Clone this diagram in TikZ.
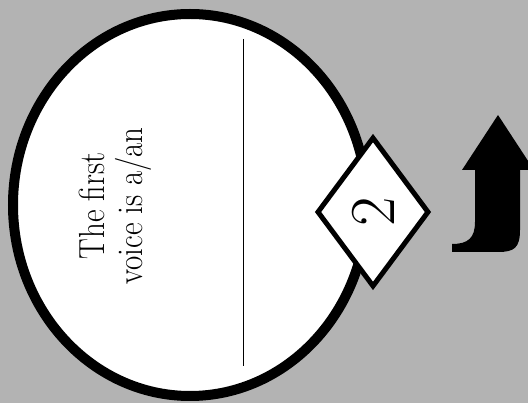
\documentclass[tikz,border=0pt]{standalone}
\usetikzlibrary{shapes.geometric}
\definecolor{bggray}{RGB}{179,179,179}
\tikzset{
  oval/.style={ellipse, draw=black, fill=white, line width=10pt, inner sep=0pt},
  gem/.style={diamond, draw=black, fill=white, line width=5pt, inner sep=0pt},
  divider/.style={draw=black, line width=1pt},
  bigarrow/.style={fill=black}
}
\begin{document}
\begin{tikzpicture}[x=1pt, y=-1pt]
  \fill[bggray] (0,0) rectangle (528,403);
  \useasboundingbox (0,0) rectangle (528,403);
  \clip (0,0) rectangle (528,403);
  % big ellipse
  \node[oval, minimum width=354pt, minimum height=382pt] (oval) at (190,205) {};
  % divider line
  \coordinate (lt) at (243,39);
  \coordinate (lb) at (243,366);
  \draw[divider] (lt) -- (lb);
  % label
  \node[rotate=90, inner sep=0pt] (label) at (116,206)
    {\scalebox{1}[1.17]{\fontsize{31}{30}\selectfont\begin{tabular}{@{}c@{}}The first\\voice is a/an\end{tabular}}};
  % diamond
  \node[gem, rotate=90, minimum width=150pt, minimum height=112pt,
        font=\fontsize{64}{64}\selectfont] (num) at (373,212) {2};
  % arrow
  \path[bigarrow] (498,115) -- (534,170) -- (520,170) -- (520,230)
    .. controls (520,248) and (514,252) .. (498,252) -- (452,252) -- (452,244)
    .. controls (468,244) and (475,238) .. (475,222) -- (475,170) -- (462,170) -- cycle;
\end{tikzpicture}
\end{document}
